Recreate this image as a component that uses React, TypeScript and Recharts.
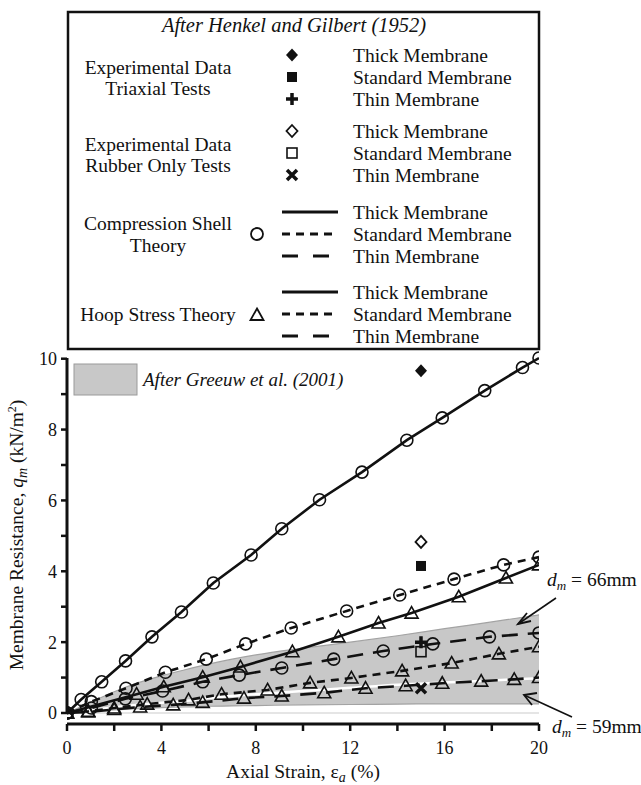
import React from "react";
import { ComposedChart, Line, Area, Scatter, XAxis, YAxis, ReferenceLine } from "recharts";

const W = 641;
const H = 785;
const FONT = '"Liberation Serif", "Times New Roman", serif';
const INK = "#111";

// Compression shell theory (circle markers), [strain %, q_m kN/m2]
const CS_THICK = [[0, 0], [0.6, 0.38], [1.47, 0.88], [2.48, 1.47], [3.6, 2.15], [4.85, 2.85], [6.2, 3.67], [7.8, 4.46], [9.1, 5.2], [10.7, 6.02], [12.5, 6.8], [14.4, 7.7], [15.9, 8.33], [17.7, 9.1], [19.3, 9.75], [20, 10.02]];
const CS_STANDARD = [[0, 0], [1.03, 0.32], [2.5, 0.7], [4.17, 1.15], [5.9, 1.52], [7.57, 1.95], [9.5, 2.4], [11.85, 2.88], [14.1, 3.33], [16.4, 3.78], [18.5, 4.18], [20, 4.4]];
const CS_THIN = [[0, 0], [1.03, 0.14], [2.47, 0.4], [4.05, 0.62], [5.75, 0.88], [7.3, 1.07], [9.1, 1.27], [11.3, 1.52], [13.4, 1.75], [15.5, 1.95], [17.9, 2.15], [20, 2.26]];

// Hoop stress theory (triangle markers)
const HS_THICK = [[0, 0], [2.95, 0.53], [4.1, 0.74], [5.75, 1.01], [7.35, 1.3], [9.55, 1.73], [11.5, 2.15], [13.2, 2.54], [14.6, 2.82], [16.6, 3.28], [18.6, 3.81], [20, 4.18]];
const HS_STANDARD = [[0, 0], [0.9, 0.05], [2.0, 0.14], [3.4, 0.25], [5.15, 0.37], [6.55, 0.53], [8.5, 0.65], [10.3, 0.85], [12.05, 0.99], [14.2, 1.19], [16.3, 1.41], [18.3, 1.67], [20, 1.87]];
const HS_THIN = [[0, 0], [0.9, 0.03], [2.0, 0.1], [3.1, 0.17], [4.5, 0.23], [5.75, 0.3], [7.5, 0.42], [9.1, 0.48], [10.9, 0.57], [12.65, 0.7], [14.35, 0.77], [15.9, 0.84], [17.55, 0.9], [18.95, 0.95], [20, 1.0]];

// Greeuw et al. (2001) band
const BAND_X = [0, 1, 2, 3, 4, 5, 6, 7, 8, 10, 12, 14, 16, 18, 20];
const BAND_LOW = [0, 0.05, 0.09, 0.12, 0.15, 0.17, 0.19, 0.2, 0.21, 0.23, 0.24, 0.25, 0.26, 0.26, 0.26];
const BAND_HIGH = [0, 0.3, 0.6, 0.85, 1.05, 1.22, 1.38, 1.52, 1.64, 1.83, 2.0, 2.18, 2.38, 2.57, 2.77];
const BAND_SPLIT = [0, 0.08, 0.16, 0.23, 0.29, 0.34, 0.42, 0.48, 0.53, 0.62, 0.71, 0.8, 0.86, 0.92, 0.98];

// Henkel and Gilbert (1952) experiments, all at 15 % strain
const EXP_STRAIN = 15;
const TRIAXIAL = [9.66, 4.15, 2.0]; // thick, standard, thin
const RUBBER_ONLY = [4.83, 1.73, 0.7];

const X_TICKS = [0, 2, 4, 6, 8, 10, 12, 14, 16, 18, 20];
const Y_TICKS = [0, 1, 2, 3, 4, 5, 6, 7, 8, 9, 10];

const pts = (a: number[][]) => a.map(([x, y]) => ({ x, y }));
const band = BAND_X.map((x, i) => ({ x, range: [BAND_LOW[i], BAND_HIGH[i]] }));
const split = BAND_X.map((x, i) => ({ x, y: BAND_SPLIT[i] }));

const circleDot = (name: string) => (p: any) => (
  <circle key={`${name}-${p.index}`} cx={p.cx} cy={p.cy} r={6} fill="none" stroke={INK} strokeWidth={1.6} />
);
const triDot = (name: string) => (p: any) => (
  <path
    key={`${name}-${p.index}`}
    d={`M${p.cx},${p.cy - 6.5} L${p.cx + 6.5},${p.cy + 5} L${p.cx - 6.5},${p.cy + 5} Z`}
    fill="none"
    stroke={INK}
    strokeWidth={1.6}
    strokeLinejoin="miter"
  />
);

// marker shapes used both in the plot and in the legend
function Marker({ kind, cx, cy }: { kind: string; cx: number; cy: number }) {
  switch (kind) {
    case "diamondFill":
      return <path d={`M${cx},${cy - 6.5} L${cx + 6},${cy} L${cx},${cy + 6.5} L${cx - 6},${cy} Z`} fill={INK} />;
    case "squareFill":
      return <rect x={cx - 5} y={cy - 5} width={10} height={10} fill={INK} />;
    case "plus":
      return <path d={`M${cx - 6},${cy} H${cx + 6} M${cx},${cy - 6} V${cy + 6}`} stroke={INK} strokeWidth={3.5} />;
    case "diamondOpen":
      return <path d={`M${cx},${cy - 6} L${cx + 5.5},${cy} L${cx},${cy + 6} L${cx - 5.5},${cy} Z`} fill="none" stroke={INK} strokeWidth={1.8} />;
    case "squareOpen":
      return <rect x={cx - 5} y={cy - 5} width={10} height={10} fill="none" stroke={INK} strokeWidth={1.6} />;
    case "cross":
      return <path d={`M${cx - 5},${cy - 5} L${cx + 5},${cy + 5} M${cx + 5},${cy - 5} L${cx - 5},${cy + 5}`} stroke={INK} strokeWidth={3.5} />;
    default:
      return null;
  }
}

const expShape = (kind: string) => (p: any) => <Marker kind={kind} cx={p.cx} cy={p.cy} />;

const XTick = ({ x, y, payload }: any) => (
  <g>
    <line x1={x} x2={x} y1={y + 11} y2={y + 18} stroke={INK} strokeWidth={2.5} />
    {payload.value % 4 === 0 && (
      <text x={x} y={y + 41} textAnchor="middle" fontSize={18} fontFamily={FONT} fill={INK}>
        {payload.value}
      </text>
    )}
  </g>
);

const DASH_STD = "8 6";
const DASH_THIN = "16 10";

const legendRows = [
  { y: 55, marker: "diamondFill", label: "Thick Membrane" },
  { y: 77, marker: "squareFill", label: "Standard Membrane" },
  { y: 99, marker: "plus", label: "Thin Membrane" },
  { y: 131, marker: "diamondOpen", label: "Thick Membrane" },
  { y: 153, marker: "squareOpen", label: "Standard Membrane" },
  { y: 175, marker: "cross", label: "Thin Membrane" },
  { y: 212, dash: "none", label: "Thick Membrane" },
  { y: 234, dash: "8 6", label: "Standard Membrane" },
  { y: 256, dash: "16 15", label: "Thin Membrane" },
  { y: 292, dash: "none", label: "Thick Membrane" },
  { y: 314, dash: "8 6", label: "Standard Membrane" },
  { y: 336, dash: "16 15", label: "Thin Membrane" },
];

const groupLabels = [
  { y: 68, text: "Experimental Data" },
  { y: 89, text: "Triaxial Tests" },
  { y: 145, text: "Experimental Data" },
  { y: 166, text: "Rubber Only Tests" },
  { y: 224, text: "Compression Shell" },
  { y: 246, text: "Theory" },
  { y: 315, text: "Hoop Stress Theory" },
];

function Overlay() {
  const t = { fontFamily: FONT, fontSize: 19.5, fill: INK };
  return (
    <svg width={W} height={H} style={{ position: "absolute", left: 0, top: 0, pointerEvents: "none" }}>
      {/* legend box */}
      <rect x={68} y={12} width={471} height={337} fill="#fff" stroke={INK} strokeWidth={2.5} />
      <text x={294} y={32} textAnchor="middle" fontStyle="italic" {...t} fontSize={20.5}>After Henkel and Gilbert (1952)</text>
      {groupLabels.map((g, i) => (
        <text key={i} x={158} y={g.y + 6} textAnchor="middle" {...t}>{g.text}</text>
      ))}
      {legendRows.map((r, i) => (
        <g key={i}>
          {r.marker && <Marker kind={r.marker} cx={292} cy={r.y} />}
          {r.dash && (
            <line x1={282} x2={338} y1={r.y} y2={r.y} stroke={INK} strokeWidth={3} strokeDasharray={r.dash === "none" ? undefined : r.dash} />
          )}
          <text x={353} y={r.y + 6.5} {...t}>{r.label}</text>
        </g>
      ))}
      <circle cx={257} cy={234} r={6} fill="none" stroke={INK} strokeWidth={1.8} />
      <path d="M257,308.5 L263.5,320 L250.5,320 Z" fill="none" stroke={INK} strokeWidth={1.8} />

      {/* band legend inside plot */}
      <rect x={74} y={364} width={63} height={31} fill="#c8c8c8" stroke="#9a9a9a" strokeWidth={1} />
      <text x={143} y={386} fontStyle="italic" {...t} fontSize={19}>After Greeuw et al. (2001)</text>

      {/* annotations */}
      <line x1={556} y1={598} x2={518} y2={624} stroke={INK} strokeWidth={1.6} />
      <path d="M527,613 L518,624 L531,621" fill="none" stroke={INK} strokeWidth={1.8} />
      <text x={547} y={586} {...t}>
        <tspan fontStyle="italic">d</tspan>
        <tspan fontStyle="italic" fontSize={13} dy={4}>m</tspan>
        <tspan dy={-4}> = 66mm</tspan>
      </text>
      <line x1={572} y1={717} x2={524} y2={695} stroke={INK} strokeWidth={1.6} />
      <path d="M537,693 L524,695 L532,705" fill="none" stroke={INK} strokeWidth={1.8} />
      <text x={552} y={733} {...t}>
        <tspan fontStyle="italic">d</tspan>
        <tspan fontStyle="italic" fontSize={13} dy={4}>m</tspan>
        <tspan dy={-4}> = 59mm</tspan>
      </text>

      {/* axis titles */}
      <text x={303} y={778} textAnchor="middle" {...t}>
        Axial Strain, ε<tspan fontStyle="italic" fontSize={14} dy={4}>a</tspan>
        <tspan dy={-4}> (%)</tspan>
      </text>
      <text transform="translate(23,535) rotate(-90)" textAnchor="middle" {...t}>
        Membrane Resistance, <tspan fontStyle="italic">q</tspan>
        <tspan fontStyle="italic" fontSize={14} dy={4}>m</tspan>
        <tspan dy={-4}> (kN/m</tspan>
        <tspan fontSize={12} dy={-7}>2</tspan>
        <tspan dy={7}>)</tspan>
      </text>
    </svg>
  );
}

export default function App() {
  return (
    <div style={{ position: "absolute", left: 0, top: 0, width: W, height: H, background: "#fff" }}>
      <ComposedChart width={W} height={H} margin={{ top: 358, right: 102, bottom: 0, left: 0 }}>
        <XAxis
          dataKey="x"
          type="number"
          domain={[0, 20]}
          ticks={X_TICKS}
          interval={0}
          allowDataOverflow
          height={72}
          tickSize={0}
          tickMargin={0}
          tickLine={false}
          tick={<XTick />}
          axisLine={{ stroke: INK, strokeWidth: 3, transform: "translate(0,11)" }}
        />
        <XAxis xAxisId="top" orientation="top" type="number" domain={[0, 20]} height={0} tick={false} tickLine={false} axisLine={{ stroke: INK, strokeWidth: 2.5 }} />
        <YAxis
          type="number"
          domain={[0, 10]}
          ticks={Y_TICKS}
          interval={0}
          width={67}
          tickSize={6}
          tickMargin={4}
          tickFormatter={(v: number) => (v % 2 === 0 ? String(v) : "")}
          tick={{ fontSize: 18, fill: INK, fontFamily: FONT }}
          tickLine={{ stroke: INK, strokeWidth: 2.5 }}
          axisLine={{ stroke: INK, strokeWidth: 3 }}
        />
        <YAxis yAxisId="right" orientation="right" type="number" domain={[0, 10]} width={0} tick={false} tickLine={false} axisLine={{ stroke: INK, strokeWidth: 3 }} />

        <ReferenceLine y={0} stroke="#dcdcdc" strokeWidth={1.5} />
        <Area data={band} dataKey="range" type="monotone" fill="#c8c8c8" fillOpacity={1} stroke="#a3a3a3" strokeWidth={1.2} isAnimationActive={false} />
        <Line data={split} dataKey="y" type="monotone" stroke="#fff" strokeWidth={2.5} dot={false} isAnimationActive={false} />

        <Line data={pts(CS_THICK)} dataKey="y" type="linear" stroke={INK} strokeWidth={2.6} dot={circleDot("cs1")} isAnimationActive={false} />
        <Line data={pts(CS_STANDARD)} dataKey="y" type="linear" stroke={INK} strokeWidth={2.6} strokeDasharray={DASH_STD} dot={circleDot("cs2")} isAnimationActive={false} />
        <Line data={pts(CS_THIN)} dataKey="y" type="linear" stroke={INK} strokeWidth={2.6} strokeDasharray={DASH_THIN} dot={circleDot("cs3")} isAnimationActive={false} />
        <Line data={pts(HS_THICK)} dataKey="y" type="linear" stroke={INK} strokeWidth={2.6} dot={triDot("hs1")} isAnimationActive={false} />
        <Line data={pts(HS_STANDARD)} dataKey="y" type="linear" stroke={INK} strokeWidth={2.6} strokeDasharray={DASH_STD} dot={triDot("hs2")} isAnimationActive={false} />
        <Line data={pts(HS_THIN)} dataKey="y" type="linear" stroke={INK} strokeWidth={2.6} strokeDasharray={DASH_THIN} dot={triDot("hs3")} isAnimationActive={false} />

        <Scatter data={[{ x: EXP_STRAIN, y: TRIAXIAL[0] }]} dataKey="y" shape={expShape("diamondFill")} isAnimationActive={false} />
        <Scatter data={[{ x: EXP_STRAIN, y: TRIAXIAL[1] }]} dataKey="y" shape={expShape("squareFill")} isAnimationActive={false} />
        <Scatter data={[{ x: EXP_STRAIN, y: TRIAXIAL[2] }]} dataKey="y" shape={expShape("plus")} isAnimationActive={false} />
        <Scatter data={[{ x: EXP_STRAIN, y: RUBBER_ONLY[0] }]} dataKey="y" shape={expShape("diamondOpen")} isAnimationActive={false} />
        <Scatter data={[{ x: EXP_STRAIN, y: RUBBER_ONLY[1] }]} dataKey="y" shape={expShape("squareOpen")} isAnimationActive={false} />
        <Scatter data={[{ x: EXP_STRAIN, y: RUBBER_ONLY[2] }]} dataKey="y" shape={expShape("cross")} isAnimationActive={false} />
      </ComposedChart>
      <Overlay />
    </div>
  );
}
